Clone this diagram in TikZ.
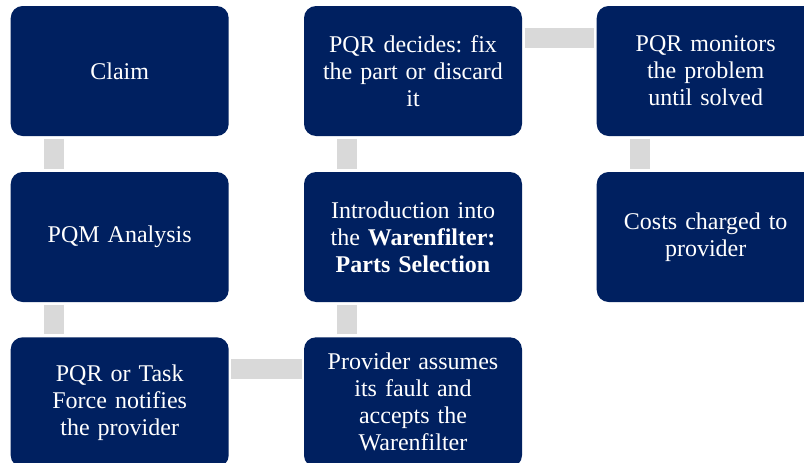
\documentclass[tikz,border=0pt]{standalone}
\usepackage{fontspec}
\setmainfont{Liberation Serif}
\frenchspacing
\definecolor{navy}{HTML}{002060}
\definecolor{bargray}{HTML}{D9D9D9}
\begin{document}
\begin{tikzpicture}[x=1pt,y=-1pt,
  box/.style={rectangle, rounded corners=12pt, fill=navy, draw=none,
    minimum width=218pt, minimum height=130pt, inner sep=0pt,
    text width=210pt, align=center, text=white,
    font=\fontsize{24pt}{27pt}\selectfont},
  bar/.style={draw=bargray, line width=20pt, line cap=butt}]
\useasboundingbox (0,0) rectangle (804,463);
\clip (0,0) rectangle (804,463);
\node[box] (claim)  at (119.7,71)  {Claim};
\node[box] (pqm)    at (119.7,237) {PQM Analysis};
\node[box] (notif)  at (119.7,402.3) {PQR or Task\\Force notifies\\the provider};
\node[box] (prov)   at (413,402.3) {Provider assumes\\its fault and\\accepts the\\Warenfilter};
\node[box] (intro)  at (413,237) {Introduction into\\the \textbf{Warenfilter:}\\\textbf{Parts Selection}};
\node[box] (decide) at (413,71)  {PQR decides: fix\\the part or discard\\it};
\node[box] (monit)  at (705.7,71) {PQR monitors\\the problem\\until solved};
\node[box] (costs)  at (705.7,237) {Costs charged to\\provider};
\draw[bar] ([xshift=43.5pt,yshift=-2.7pt]claim.south west) -- ([xshift=43.5pt,yshift=2.7pt]pqm.north west);
\draw[bar] ([xshift=43.5pt,yshift=-2.7pt]pqm.south west) -- ([xshift=43.5pt,yshift=2.7pt]notif.north west);
\draw[bar] ([xshift=2.3pt,yshift=-32pt]notif.north east) -- ([xshift=-2.3pt,yshift=-32pt]prov.north west);
\draw[bar] ([xshift=43.5pt,yshift=2.7pt]prov.north west) -- ([xshift=43.5pt,yshift=-2.7pt]intro.south west);
\draw[bar] ([xshift=43.5pt,yshift=2.7pt]intro.north west) -- ([xshift=43.5pt,yshift=-2.7pt]decide.south west);
\draw[bar] ([xshift=2.3pt,yshift=-32pt]decide.north east) -- ([xshift=-2.3pt,yshift=-32pt]monit.north west);
\draw[bar] ([xshift=43.5pt,yshift=-2.7pt]monit.south west) -- ([xshift=43.5pt,yshift=2.7pt]costs.north west);
\end{tikzpicture}
\end{document}
